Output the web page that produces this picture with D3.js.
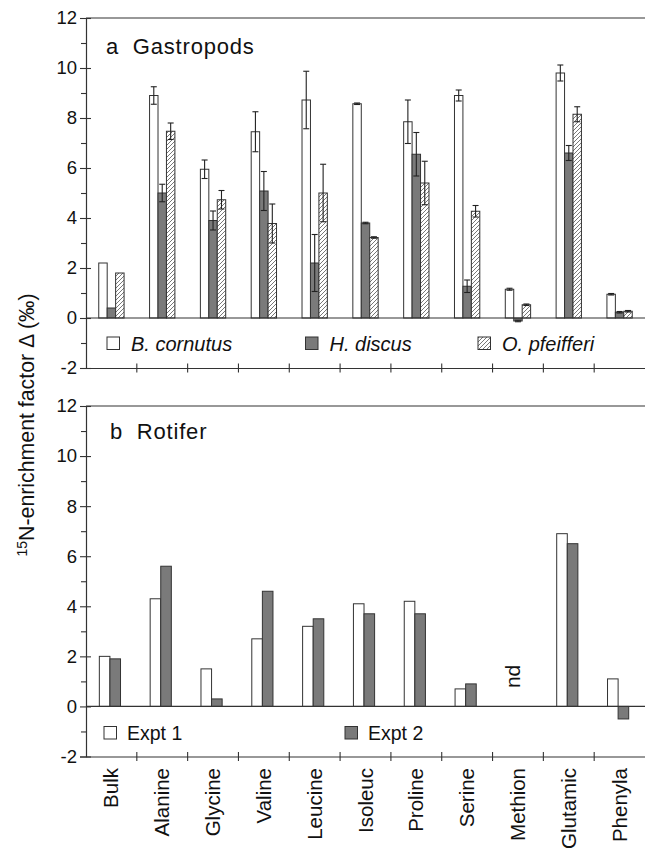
<!DOCTYPE html>
<html><head><meta charset="utf-8">
<script src="https://cdn.jsdelivr.net/npm/d3@7"></script>
<style>
html,body{margin:0;padding:0;background:#fff;}
svg{display:block;font-family:"Liberation Sans",Arial,Helvetica,sans-serif;}
</style></head>
<body>
<svg id="chart" width="645" height="851"></svg>
<script>
const categories = ["Bulk","Alanine","Glycine","Valine","Leucine","Isoleuc","Proline","Serine","Methion","Glutamic","Phenyla"];
// Panel a: Gastropods
const gastroSeries = ["B. cornutus","H. discus","O. pfeifferi"];
const bCornutus   = [2.2, 8.9, 5.95, 7.45, 8.72, 8.57, 7.85, 8.9, 1.15, 9.8, 0.95];
const bCornutusErr= [0, 0.35, 0.37, 0.8, 1.15, 0.03, 0.87, 0.22, 0.04, 0.32, 0.03];
const hDiscus     = [0.4, 5.0, 3.9, 5.08, 2.2, 3.8, 6.55, 1.27, -0.12, 6.6, 0.23];
const hDiscusErr  = [0, 0.35, 0.38, 0.78, 1.14, 0.03, 0.87, 0.25, 0.03, 0.3, 0.03];
const oPfeifferi  = [1.8, 7.47, 4.73, 3.78, 5.0, 3.22, 5.4, 4.27, 0.53, 8.15, 0.27];
const oPfeifferiErr=[0, 0.33, 0.37, 0.78, 1.15, 0.03, 0.87, 0.23, 0.03, 0.3, 0.03];
// Panel b: Rotifer
const rotiferSeries = ["Expt 1","Expt 2"];
const expt1 = [2.0, 4.3, 1.5, 2.7, 3.2, 4.1, 4.2, 0.7, null, 6.9, 1.1];
const expt2 = [1.9, 5.6, 0.3, 4.6, 3.5, 3.7, 3.7, 0.9, null, 6.5, -0.5];
const majorTicks = [-2,0,2,4,6,8,10,12];
const minorTicks = [-1,1,3,5,7,9,11];

const svg = d3.select("#chart");
const FONT = '"Liberation Sans",Arial,Helvetica,sans-serif';
const left = 86, right = 645;
const x = d3.scaleBand().domain(categories).range([left, right]).padding(0);

const defs = svg.append("defs");
const pat = defs.append("pattern").attr("id","hatch").attr("patternUnits","userSpaceOnUse")
  .attr("width",4).attr("height",4);
pat.append("rect").attr("width",4).attr("height",4).attr("fill","#fff");
pat.append("path").attr("d","M-1,1 l2,-2 M0,4 l4,-4 M3,5 l2,-2")
  .attr("stroke","#555").attr("stroke-width",0.8);

const fills = {"B. cornutus":"#fff","H. discus":"#7a7a7a","O. pfeifferi":"url(#hatch)",
               "Expt 1":"#fff","Expt 2":"#7a7a7a"};

function panel(top, bottom, label, labelX, labelY) {
  const y = d3.scaleLinear().domain([-2,12]).range([bottom, top]);
  const g = svg.append("g");
  g.append("line").attr("x1",left).attr("x2",right).attr("y1",y(12)).attr("y2",y(12))
    .attr("stroke","#333").attr("stroke-width",1.2);
  const ax = g.append("g").attr("transform",`translate(${left},0)`)
    .call(d3.axisLeft(y).tickValues(majorTicks).tickFormat(d => String(d)).tickSize(6).tickPadding(4));
  ax.select(".domain").attr("stroke","#333").attr("stroke-width",1.2);
  ax.selectAll(".tick line").attr("x2",-6).attr("x1",5).attr("stroke","#333").attr("stroke-width",1.1);
  ax.selectAll(".tick text").attr("font-size",18.5).attr("font-family",FONT).attr("fill","#111").attr("x",-9);
  const axm = g.append("g").attr("transform",`translate(${left},0)`)
    .call(d3.axisLeft(y).tickValues(minorTicks).tickFormat("").tickSize(5));
  axm.select(".domain").remove();
  axm.selectAll(".tick line").attr("stroke","#333").attr("stroke-width",1.1);
  const bx = g.append("g").attr("transform",`translate(0,${y(-2)})`)
    .call(d3.axisBottom(x).tickValues([]).tickSizeOuter(0));
  bx.select(".domain").attr("stroke","#333").attr("stroke-width",1.2);
  const bounds = categories.slice(1);
  g.selectAll(".cb").data(bounds).join("line")
    .attr("x1",d=>x(d)).attr("x2",d=>x(d))
    .attr("y1",y(-2)-4.5).attr("y2",y(-2)+4.5)
    .attr("stroke","#333").attr("stroke-width",1.1);
  g.append("text").attr("x",labelX).attr("y",labelY).attr("font-size",22).attr("letter-spacing",0.8)
    .attr("font-family",FONT).attr("fill","#111").attr("xml:space","preserve").text(label);
  return {g, y};
}

// Panel a
const pa = panel(18, 368, "a  Gastropods", 106, 54);
const xa = d3.scaleBand().domain(gastroSeries).range([0, x.bandwidth()]).paddingInner(0).paddingOuter(1.51);
const gastroData = [bCornutus, hDiscus, oPfeifferi];
const gastroErr = [bCornutusErr, hDiscusErr, oPfeifferiErr];
gastroSeries.forEach((s, si) => {
  const rows = categories.map((c, i) => ({c, v: gastroData[si][i], e: gastroErr[si][i]}));
  pa.g.append("g").selectAll("rect").data(rows).join("rect")
    .attr("x", d => x(d.c) + xa(s))
    .attr("width", xa.bandwidth())
    .attr("y", d => pa.y(Math.max(0, d.v)))
    .attr("height", d => Math.abs(pa.y(d.v) - pa.y(0)))
    .attr("fill", fills[s]).attr("stroke","#333").attr("stroke-width",1);
  const eg = pa.g.append("g").attr("stroke","#222").attr("stroke-width",1.1);
  rows.filter(d => d.e > 0).forEach(d => {
    const cx = x(d.c) + xa(s) + xa.bandwidth()/2;
    const lo = pa.y(d.v - d.e), hi = pa.y(d.v + d.e);
    eg.append("line").attr("x1",cx).attr("x2",cx).attr("y1",lo).attr("y2",hi);
    eg.append("line").attr("x1",cx-3).attr("x2",cx+3).attr("y1",hi).attr("y2",hi);
    eg.append("line").attr("x1",cx-3).attr("x2",cx+3).attr("y1",lo).attr("y2",lo);
  });
});
pa.g.append("line").attr("x1",left).attr("x2",right).attr("y1",pa.y(0)).attr("y2",pa.y(0))
  .attr("stroke","#333").attr("stroke-width",1.2);
const legA = [{s:"B. cornutus", x:107},{s:"H. discus", x:305.5},{s:"O. pfeifferi", x:478}];
legA.forEach(l => {
  pa.g.append("rect").attr("x",l.x).attr("y",337).attr("width",12.5).attr("height",12.5)
    .attr("fill",fills[l.s]).attr("stroke","#333").attr("stroke-width",1);
  pa.g.append("text").attr("x",l.x+24).attr("y",350.5).attr("font-size",20).attr("font-style","italic")
    .attr("font-family",FONT).attr("fill","#111").text(l.s);
});

// Panel b
const pb = panel(406, 756.5, "b  Rotifer", 110, 439);
const xb = d3.scaleBand().domain(rotiferSeries).range([0, x.bandwidth()]).paddingInner(0).paddingOuter(1.4).align(0.45);
const rotData = [expt1, expt2];
rotiferSeries.forEach((s, si) => {
  const rows = categories.map((c, i) => ({c, v: rotData[si][i]})).filter(d => d.v !== null);
  pb.g.append("g").selectAll("rect").data(rows).join("rect")
    .attr("x", d => x(d.c) + xb(s))
    .attr("width", xb.bandwidth())
    .attr("y", d => pb.y(Math.max(0, d.v)))
    .attr("height", d => Math.abs(pb.y(d.v) - pb.y(0)))
    .attr("fill", fills[s]).attr("stroke","#333").attr("stroke-width",1);
});
pb.g.append("line").attr("x1",left).attr("x2",right).attr("y1",pb.y(0)).attr("y2",pb.y(0))
  .attr("stroke","#333").attr("stroke-width",1.2);
const ndX = x("Methion") + x.bandwidth()/2;
pb.g.append("text").attr("transform",`translate(${ndX+2.5},${pb.y(1.2)}) rotate(-90)`)
  .attr("text-anchor","middle").attr("font-size",21).attr("font-family",FONT).attr("fill","#111").text("nd");
const legB = [{s:"Expt 1", x:104},{s:"Expt 2", x:345}];
legB.forEach(l => {
  pb.g.append("rect").attr("x",l.x).attr("y",726.5).attr("width",12.5).attr("height",12.5)
    .attr("fill",fills[l.s]).attr("stroke","#333").attr("stroke-width",1);
  pb.g.append("text").attr("x",l.x+23).attr("y",739.5).attr("font-size",19.5)
    .attr("font-family",FONT).attr("fill","#111").text(l.s);
});

// x labels
svg.append("g").selectAll("text").data(categories).join("text")
  .attr("transform", d => `translate(${x(d)+x.bandwidth()/2+7},768) rotate(-90)`)
  .attr("text-anchor","end").attr("font-size",20.5).attr("font-family",FONT).attr("fill","#111")
  .text(d => d);

// y title
const yt = svg.append("text").attr("transform","translate(34,425) rotate(-90)")
  .attr("text-anchor","middle").attr("font-size",21.3).attr("font-family",FONT).attr("fill","#111");
yt.append("tspan").attr("font-size",14).attr("dy",-7.5).text("15");
yt.append("tspan").attr("dy",7.5).text("N-enrichment factor Δ (‰)");
</script>
</body></html>
